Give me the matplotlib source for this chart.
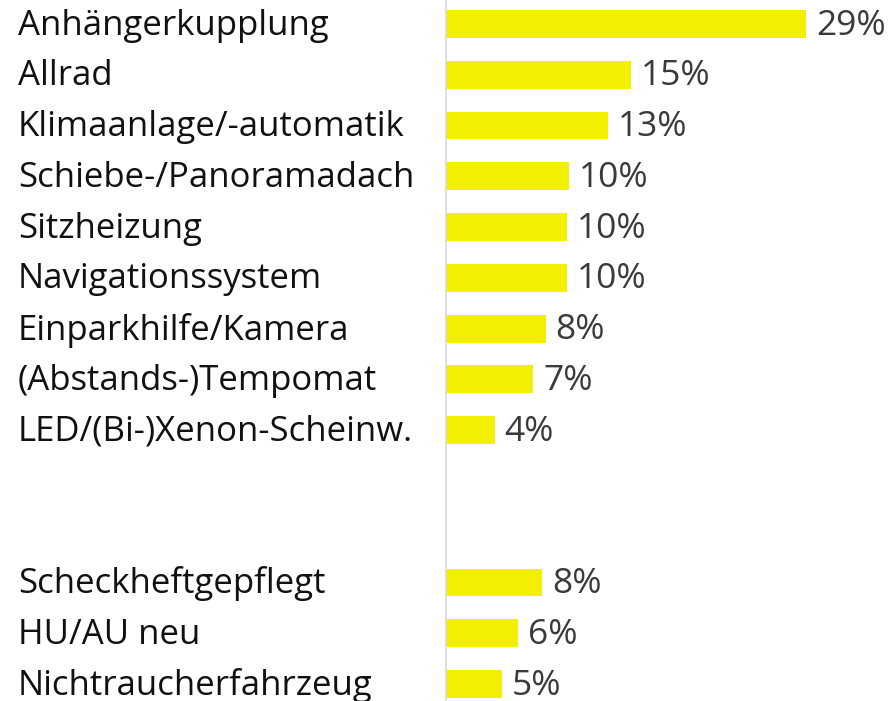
import matplotlib.pyplot as plt
import matplotlib.transforms as mtransforms

# Data
categories = [
    "Anhängerkupplung", "Allrad", "Klimaanlage/-automatik", "Schiebe-/Panoramadach",
    "Sitzheizung", "Navigationssystem", "Einparkhilfe/Kamera", "(Abstands-)Tempomat",
    "LED/(Bi-)Xenon-Scheinw.",
    "Scheckheftgepflegt", "HU/AU neu", "Nichtraucherfahrzeug",
]
values = [29.0, 14.9, 13.0, 9.9, 9.75, 9.7, 8.0, 7.0, 3.9, 7.75, 5.8, 4.5]
value_labels = ["29%", "15%", "13%", "10%", "10%", "10%", "8%", "7%", "4%", "8%", "6%", "5%"]
positions = [0, 1, 2, 3, 4, 5, 6, 7, 8, 11, 12, 13]

bar_color = "#F2F000"
font = "Open Sans"

fig = plt.figure(figsize=(8.95, 7.01), dpi=100)
ax = fig.add_axes([445 / 895, 0, 450 / 895, 1])

ax.barh(positions, values, height=0.55, color=bar_color, left=0.1)

# small downward shift so text sits like the reference
dy = 0.03
for pos, val, lab in zip(positions, values, value_labels):
    ax.text(val + 0.1 + 0.8, pos + dy, lab, va="center", ha="left",
            fontsize=25.5, color="#3a3a3a", family=font)

# category labels at fixed figure x
trans = mtransforms.blended_transform_factory(fig.transFigure, ax.transData)
for pos, cat in zip(positions, categories):
    ax.text(18 / 895, pos + dy, cat, va="center", ha="left", transform=trans,
            fontsize=25, color="#111111", family=font, clip_on=False)

ax.set_xlim(0, 450 / 12.41)
ax.set_ylim(13 + 17 / 50.77, -24 / 50.77)

ax.axvline(0, color="#dddddd", linewidth=2)
for s in ax.spines.values():
    s.set_visible(False)
ax.set_xticks([])
ax.set_yticks([])

fig.savefig("out.png", dpi=100)
